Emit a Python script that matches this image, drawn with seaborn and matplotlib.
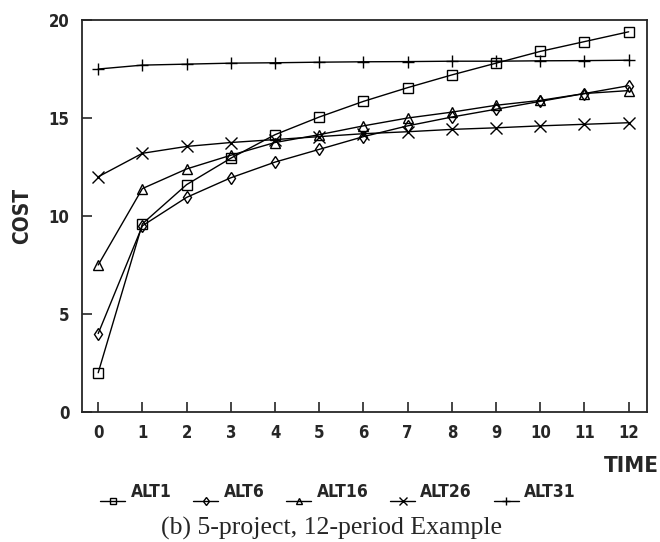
import numpy as np
import pandas as pd
import seaborn as sns
import matplotlib.pyplot as plt

# values
periods = list(range(13))
alt1 = [2.0, 9.6, 11.6, 12.95, 14.15, 15.05, 15.85, 16.55, 17.2, 17.8, 18.4, 18.9, 19.4]
alt6 = [4.0, 9.5, 10.95, 11.95, 12.75, 13.4, 14.05, 14.6, 15.05, 15.45, 15.85, 16.25, 16.65]
alt16 = [7.5, 11.4, 12.4, 13.1, 13.75, 14.15, 14.6, 15.0, 15.3, 15.65, 15.9, 16.25, 16.4]
alt26 = [12.0, 13.2, 13.55, 13.75, 13.9, 14.05, 14.2, 14.3, 14.42, 14.5, 14.6, 14.68, 14.76]
alt31 = [17.5, 17.7, 17.75, 17.8, 17.82, 17.85, 17.87, 17.88, 17.9, 17.9, 17.92, 17.93, 17.95]

series_names = ["ALT1", "ALT6", "ALT16", "ALT26", "ALT31"]
series_values = [alt1, alt6, alt16, alt26, alt31]
markers = ["s", "d", "^", "x", "+"]

sns.set_style("ticks")
plt.rcParams['font.family'] = ['DejaVu Sans']
plt.rcParams['font.stretch'] = 'condensed'

df = pd.DataFrame({
    "TIME": periods * len(series_names),
    "COST": sum(series_values, []),
    "alt": np.repeat(series_names, len(periods)),
})

fig = plt.figure(figsize=(6.6, 5.42), dpi=100)
ax = fig.add_axes([0.124, 0.240, 0.856, 0.723])

for name, mk in zip(series_names, markers):
    sub = df[df["alt"] == name]
    sns.lineplot(data=sub, x="TIME", y="COST", ax=ax, color="black", linewidth=1.0,
                 marker=mk, markersize=6.5 if mk not in ("x", "+") else 8,
                 markerfacecolor="none", markeredgecolor="black", markeredgewidth=1.0,
                 label=name)

ax.set_xlim(-0.37, 12.41)
ax.set_ylim(0, 20)
ax.set_xticks(periods)
ax.set_yticks([0, 5, 10, 15, 20])
ax.tick_params(direction="in", length=7, width=1.2, labelsize=12, pad=9)
for lab in ax.get_xticklabels() + ax.get_yticklabels():
    lab.set_fontweight("bold")
for sp in ax.spines.values():
    sp.set_linewidth(1.3)
    sp.set_visible(True)

ax.set_xlabel("")
ax.set_ylabel("COST", fontsize=15, fontweight="bold")
ax.yaxis.set_label_coords(-0.088, 0.5)
fig.text(0.999, 0.140, "TIME", fontsize=16, fontweight="bold", ha="right", va="center")

handles, labels = ax.get_legend_handles_labels()
ax.get_legend().remove()
leg = fig.legend(handles, labels, loc="center left", bbox_to_anchor=(0.152, 0.074),
                 ncol=5, frameon=False, fontsize=12.5, handlelength=1.45,
                 handletextpad=0.3, columnspacing=1.25, markerscale=0.7,
                 borderpad=0, borderaxespad=0)
for t in leg.get_texts():
    t.set_fontweight("bold")
    t.set_y(10)

fig.text(0.244, 0.013, "(b) 5-project, 12-period Example", fontsize=18.5,
         family="Liberation Serif", stretch="normal", ha="left", va="baseline")

fig.savefig("out.png", dpi=100)
